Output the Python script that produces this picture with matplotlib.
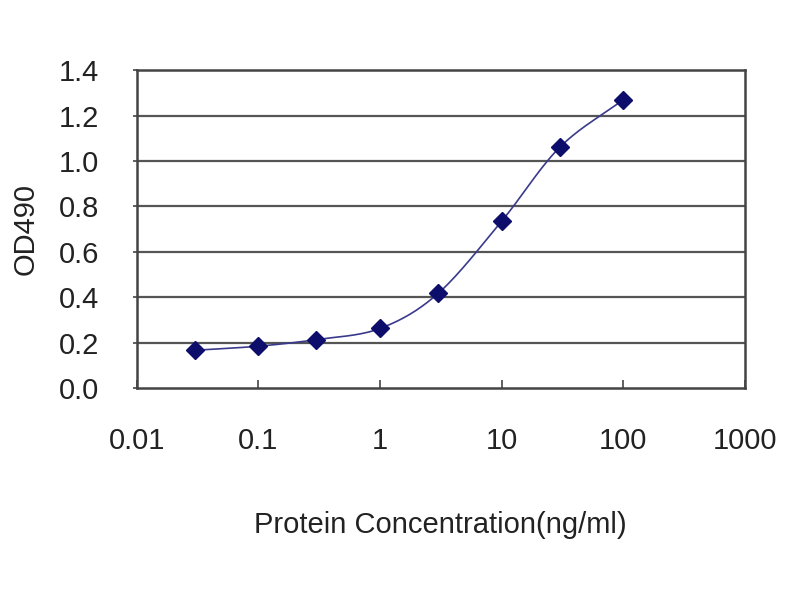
import numpy as np
import matplotlib
matplotlib.use("Agg")
import matplotlib.pyplot as plt

plt.rcParams['font.family'] = ['Liberation Sans', 'DejaVu Sans']

# Data
conc = [0.03, 0.1, 0.3, 1, 3, 10, 30, 100]
od490 = [0.167, 0.185, 0.214, 0.263, 0.417, 0.735, 1.06, 1.27]
x_ticks = [0.01, 0.1, 1, 10, 100, 1000]
x_tick_labels = ['0.01', '0.1', '1', '10', '100', '1000']
y_ticks = [0.0, 0.2, 0.4, 0.6, 0.8, 1.0, 1.2, 1.4]


def smooth_curve(xs, ys, n=30):
    # Catmull-Rom spline in log-x space, like a spreadsheet "smoothed line"
    lx = np.log10(xs)
    ys = np.asarray(ys, dtype=float)
    px = np.concatenate([[2 * lx[0] - lx[1]], lx, [2 * lx[-1] - lx[-2]]])
    py = np.concatenate([[2 * ys[0] - ys[1]], ys, [2 * ys[-1] - ys[-2]]])
    out_x, out_y = [], []
    t = np.linspace(0, 1, n)
    for i in range(1, len(px) - 2):
        for p, out in ((px, out_x), (py, out_y)):
            p0, p1, p2, p3 = p[i - 1], p[i], p[i + 1], p[i + 2]
            seg = 0.5 * ((2 * p1) + (-p0 + p2) * t
                         + (2 * p0 - 5 * p1 + 4 * p2 - p3) * t ** 2
                         + (-p0 + 3 * p1 - 3 * p2 + p3) * t ** 3)
            out.extend(seg)
    return 10 ** np.array(out_x), np.array(out_y)


fig = plt.figure(figsize=(8, 6), dpi=100)
ax = fig.add_axes([0.171, 0.353, 0.76, 0.53])

ax.set_xscale('log')
ax.set_xlim(0.01, 1000)
ax.set_ylim(0, 1.4)

for y in y_ticks[1:-1]:
    ax.axhline(y, color='#555555', linewidth=1.6, zorder=1)

cx, cy = smooth_curve(conc, od490)
ax.plot(cx, cy, color='#3a3a8c', linewidth=1.2, zorder=2)
ax.plot(conc, od490, linestyle='none', marker='D', markersize=9.5,
        color='#0d0d6b', zorder=3)

ax.set_xticks(x_ticks)
ax.set_xticklabels(x_tick_labels)
ax.xaxis.set_minor_locator(matplotlib.ticker.NullLocator())
ax.set_yticks(y_ticks)
ax.set_yticklabels([f'{v:.1f}' for v in y_ticks])

ax.tick_params(axis='x', direction='in', length=6, width=1.2, color='#444444',
               labelsize=21, pad=28, labelcolor='#222222')
ax.tick_params(axis='y', direction='out', length=3, width=1.2, color='#444444',
               labelsize=21, pad=24, labelcolor='#222222')

for spine in ax.spines.values():
    spine.set_color('#444444')
    spine.set_linewidth(1.8)

ax.set_xlabel('Protein Concentration(ng/ml)', fontsize=21, color='#222222', labelpad=40)
ax.set_ylabel('OD490', fontsize=21, color='#222222', labelpad=14)

fig.savefig('out.png', dpi=100)
